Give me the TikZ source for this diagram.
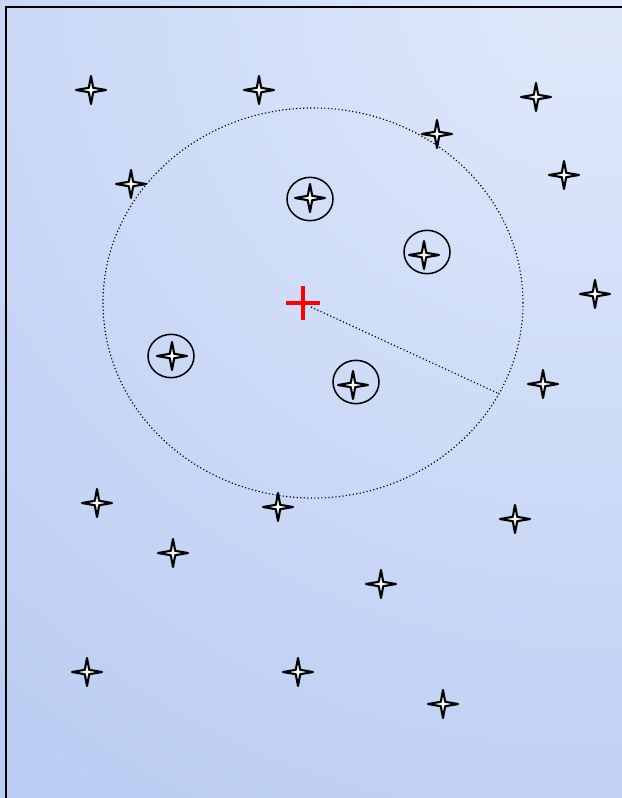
\documentclass[tikz,border=0pt]{standalone}
\usetikzlibrary{shapes.geometric}
\definecolor{skylight}{RGB}{224,233,251}
\definecolor{skydark}{RGB}{183,202,242}
\tikzset{
  sparkle/.pic={
    \filldraw[fill=white, draw=black, line width=1.8pt, line join=round]
      (15,0) -- (2.2,2.2) -- (0,14) -- (-2.2,2.2) -- (-15,0)
      -- (-2.2,-2.2) -- (0,-14) -- (2.2,-2.2) -- cycle;
  }
}

\begin{document}
\begin{tikzpicture}[
    x=0.03cm, y=-0.03cm,
    pick/.style={draw=black, ellipse, line width=1.3pt, minimum width=1.38cm, minimum height=1.3cm, inner sep=0pt},
    region/.style={draw=black, dotted, ellipse, line width=1pt, minimum width=12.6cm, minimum height=11.7cm, inner sep=0pt}
  ]
  \useasboundingbox (0,0) rectangle (622,798);
  \clip (0,0) rectangle (622,798);

  % backdrop
  \shade[inner color=skylight, outer color=skydark] (590,-20) circle (1060);
  \draw[line width=1.6pt] (6,7) rectangle (630,798.5);

  % search region
  \node[region] (area) at (313,303) {};

  % loose points
  \foreach \x/\y [count=\i] in {91/90, 259/90, 536/97, 131/184, 437/134, 564/175,
      595/294, 543/384, 97/503, 278/507, 515/519, 173/553, 381/584, 87/672,
      298/672, 443/704} {
    \pic (s\i) at (\x,\y) {sparkle};
  }

  % points inside the region
  \foreach \x/\y/\u/\v [count=\i] in {310/199/310/198, 427/252/424/255,
      171/356/172/356, 356/382/353/385} {
    \node[pick] (c\i) at (\x,\y) {};
    \pic (p\i) at (\u,\v) {sparkle};
  }

  % query point and radius
  \coordinate (hub) at (303,303);
  \coordinate (rstart) at (311,307);
  \draw[red, line width=3.2pt] (hub) ++(-17,0) -- ++(34,0);
  \draw[red, line width=3.2pt] (hub) ++(0,-17) -- ++(0,34);
  \draw[dotted, line width=1pt] (rstart) -- (area.-26);

\end{tikzpicture}
\end{document}
